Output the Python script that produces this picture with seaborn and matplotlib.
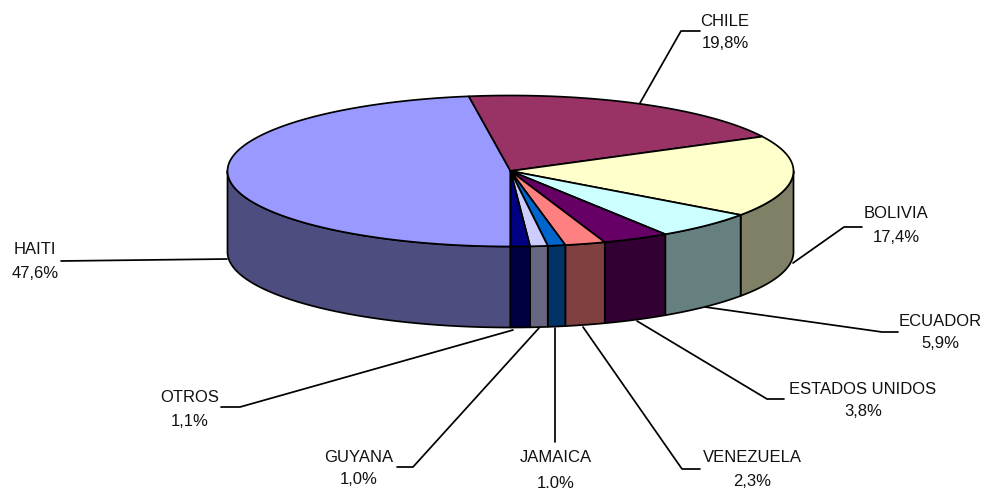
import numpy as np
import matplotlib
matplotlib.use("Agg")
import matplotlib.pyplot as plt
from matplotlib.patches import Polygon
import seaborn as sns

# clockwise from the front of the pie
categories = ["HAITI", "CHILE", "BOLIVIA", "ECUADOR", "ESTADOS UNIDOS",
              "VENEZUELA", "JAMAICA", "GUYANA", "OTROS"]
values = [47.6, 19.8, 17.4, 5.9, 3.8, 2.3, 1.0, 1.0, 1.1]
colors = ["#9999FF", "#993366", "#FFFFCC", "#CCFFFF", "#660066",
          "#FF8080", "#0066CC", "#CCCCFF", "#000080"]

sns.set_theme(style="white")
plt.rcParams["font.family"] = ["Liberation Sans", "DejaVu Sans"]

palette = sns.color_palette(colors)
shades = [tuple(c * 0.5 for c in col) for col in palette]

CX, CY, RX, RY, DEPTH = 510.5, 171.0, 283.0, 75.5, 81.0
LW = 1.25

fig, ax = plt.subplots(figsize=(9.83, 4.88), dpi=100)
ax.set_position([0, 0, 1, 1])
ax.set_xlim(0, 983)
ax.set_ylim(488, 0)
ax.axis("off")


def arc(a0, a1, dy=0.0):
    t = np.radians(np.linspace(a0, a1, max(3, int(abs(a1 - a0) * 3))))
    return np.column_stack([CX + RX * np.cos(t), CY - RY * np.sin(t) + dy])


total = sum(values)
edges = 270 - np.cumsum([0] + values) * 360.0 / total

# side walls, only the part that faces the viewer (angles 180..360)
for i in range(len(values)):
    hi, lo = edges[i] % 720, edges[i + 1] % 720
    start, stop = edges[i], edges[i + 1]
    for shift in (0, -360):
        a0 = min(start + shift, 360 - 360 if False else 1e9)
        s0 = np.clip(start + shift, -180, 0)
        s1 = np.clip(stop + shift, -180, 0)
        if s0 - s1 > 1e-6:
            top = arc(s0, s1)
            bot = arc(s1, s0, DEPTH)
            ax.add_patch(Polygon(np.vstack([top, bot]), closed=True, facecolor=shades[i],
                                 edgecolor="black", lw=LW, joinstyle="round", zorder=2))

# top face
for i in range(len(values)):
    pts = np.vstack([[CX, CY], arc(edges[i], edges[i + 1])])
    ax.add_patch(Polygon(pts, closed=True, facecolor=palette[i], edgecolor="black",
                         lw=LW, joinstyle="round", zorder=3))

# leader lines, one per category
leaders = {
    "HAITI": [(227, 259), (61, 261)],
    "CHILE": [(640, 103), (681, 31), (700, 31)],
    "BOLIVIA": [(793, 263), (844, 227), (862, 227)],
    "ECUADOR": [(705, 307), (882, 332), (898, 332)],
    "ESTADOS UNIDOS": [(637, 321), (767, 399), (784, 399)],
    "VENEZUELA": [(583, 327), (682, 469), (700, 469)],
    "JAMAICA": [(555, 328), (555, 442)],
    "GUYANA": [(539, 328), (413, 467), (397, 467)],
    "OTROS": [(513, 330), (240, 407), (221, 407)],
}
label_pos = {
    "HAITI": (35, 250, 274),
    "CHILE": (725, 21, 43),
    "BOLIVIA": (896, 214, 237),
    "ECUADOR": (940, 322, 344),
    "ESTADOS UNIDOS": (863, 390, 412),
    "VENEZUELA": (752, 458, 482),
    "JAMAICA": (556, 458, 483),
    "GUYANA": (359, 458, 480),
    "OTROS": (190, 398, 421),
}
for name, val in zip(categories, values):
    xy = np.array(leaders[name])
    ax.plot(xy[:, 0], xy[:, 1], color="black", lw=LW, zorder=1, solid_joinstyle="round")
    x, y1, y2 = label_pos[name]
    ax.text(x, y1, name, ha="center", va="center", fontsize=12, color="#111111")
    ax.text(x, y2, f"{val:.1f}%".replace(".", ","), ha="center", va="center",
            fontsize=12, color="#111111")

fig.savefig("out.png", dpi=100, facecolor="white")
